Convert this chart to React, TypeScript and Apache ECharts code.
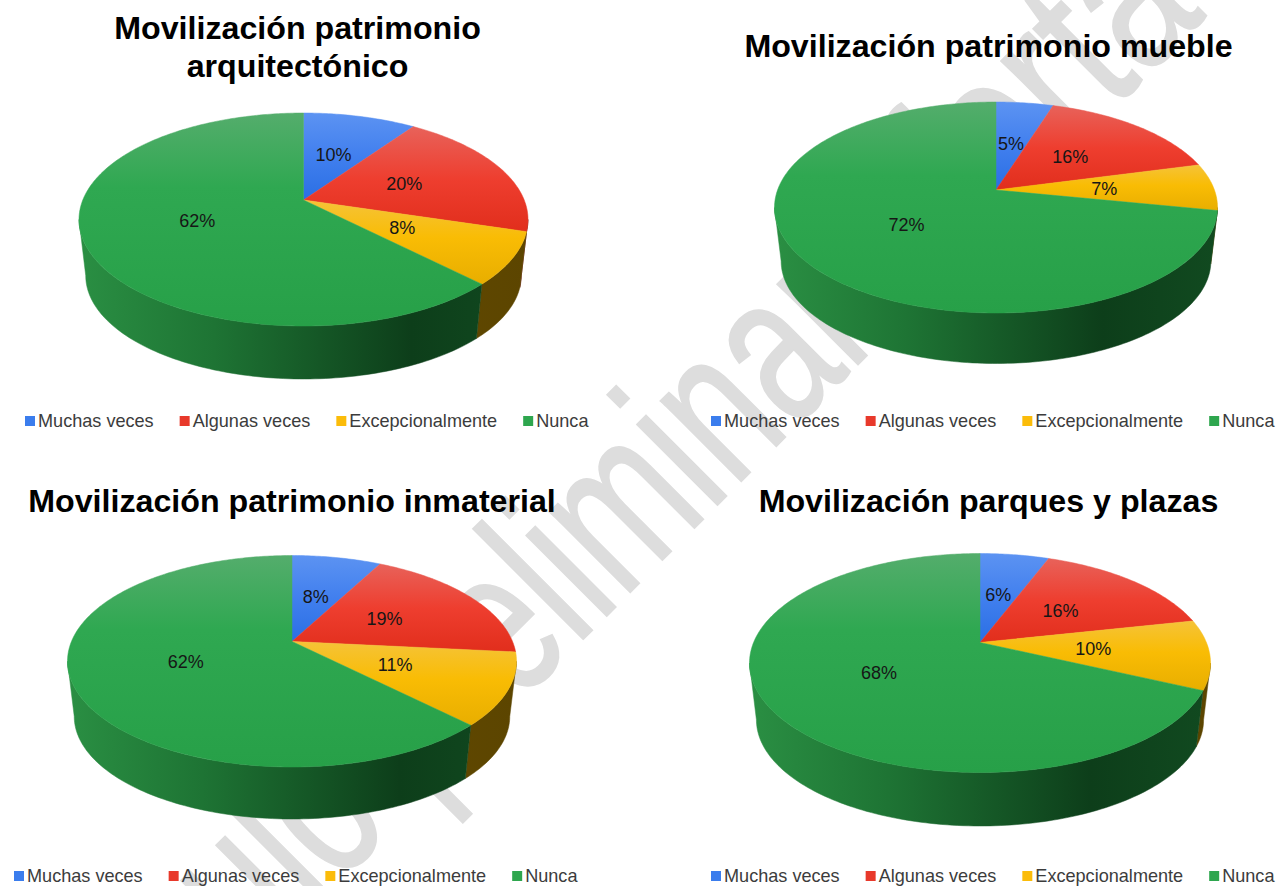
import React, { useEffect, useRef } from "react";
import * as echarts from "echarts";

const categories = ["Muchas veces", "Algunas veces", "Excepcionalmente", "Nunca"];
const titles = [
  "Movilización patrimonio\narquitectónico",
  "Movilización patrimonio mueble",
  "Movilización patrimonio inmaterial",
  "Movilización parques y plazas",
];
const arquitectonico = [9.7, 20, 7.9, 62.4];
const mueble = [4.9, 16, 7.2, 71.9];
const inmaterial = [7.7, 18.9, 11, 62.4];
const parques = [5.8, 15.8, 10.3, 68.1];
const pies = [arquitectonico, mueble, inmaterial, parques];

const layouts = [
  { cx: 303.5, cy: 200, up: 87, down: 126, halfW: 224.5, wallBottom: 379, titleX: 297.5, titleY: 9, legendX: 25, legendY: 412 },
  { cx: 996, cy: 190, up: 88, down: 123, halfW: 221.5, wallBottom: 363.5, titleX: 988.5, titleY: 27, legendX: 711, legendY: 412 },
  { cx: 292, cy: 641.5, up: 86, down: 125.5, halfW: 224.5, wallBottom: 819, titleX: 292, titleY: 482, legendX: 14, legendY: 867 },
  { cx: 980, cy: 642.5, up: 89, down: 130, halfW: 230.5, wallBottom: 826, titleX: 988.5, titleY: 482, legendX: 711, legendY: 867 },
];

const FONT = "Liberation Sans";
const legendColors = ["#3b7ded", "#e8392b", "#fbbc0a", "#2ea64e"];
const topStops = [
  [[0, "#5c93f2"], [0.5, "#417fee"], [1, "#2a6fe4"]],
  [[0, "#e8625a"], [0.5, "#ee3e2f"], [1, "#e12e1c"]],
  [[0, "#f5c338"], [0.45, "#f9bc04"], [1, "#e8ae00"]],
  [[0, "#54ad6c"], [0.35, "#2fa851"], [1, "#27a048"]],
];
const wallStops = [
  [[0, "#2a5fb8"], [1, "#143a80"]],
  [[0, "#a8281c"], [1, "#6a140c"]],
  [[0, "#6e5200"], [1, "#5c4500"]],
  [[0, "#2a8f43"], [0.3, "#1e7434"], [0.74, "#0d3e1a"], [1, "#114a20"]],
];

const toStops = (s: any[]) => s.map(([offset, color]) => ({ offset, color }));

function project(l: any, r: number, theta: number, s = 1, dy = 0) {
  const k = (l.down - l.up) / (l.down + l.up);
  const b = l.up * (1 + k);
  const a = l.halfW * Math.sqrt(1 - k * k);
  const u = r * Math.sin(theta);
  const v = -r * Math.cos(theta);
  const w = 1 - k * v;
  return [l.cx + (s * a * u) / w, l.cy + dy + (s * b * v) / w];
}

function renderSlice(l: any, idx: number) {
  return (_p: any, api: any) => {
    const value = api.value(0);
    const before = api.value(1);
    const total = api.value(2);
    const t0 = (before / total) * Math.PI * 2;
    const t1 = ((before + value) / total) * Math.PI * 2;
    const k = (l.down - l.up) / (l.down + l.up);
    const tR = Math.PI - Math.acos(k);
    const tL = Math.PI * 2 - tR;
    const s = 0.97;
    const dy = l.wallBottom - l.cy - l.down * s;
    const children: any[] = [];
    const a0 = Math.max(t0, tR);
    const a1 = Math.min(t1, tL);
    if (a1 > a0) {
      const n = Math.max(2, Math.ceil((a1 - a0) / 0.02));
      const upper: number[][] = [];
      const lower: number[][] = [];
      for (let i = 0; i <= n; i++) {
        const t = a0 + ((a1 - a0) * i) / n;
        upper.push(project(l, 1, t));
        lower.unshift(project(l, 1, t, s, dy));
      }
      const fill = new echarts.graphic.LinearGradient(
        l.cx - l.halfW, 0, l.cx + l.halfW, 0, toStops(wallStops[idx]), true
      );
      children.push({
        type: "polygon",
        shape: { points: upper.concat(lower) },
        style: { fill, stroke: fill, lineWidth: 0.5 },
      });
    }
    const pts: number[][] = [[l.cx, l.cy]];
    const m = Math.max(2, Math.ceil((t1 - t0) / 0.015));
    for (let i = 0; i <= m; i++) pts.push(project(l, 1, t0 + ((t1 - t0) * i) / m));
    const top = new echarts.graphic.LinearGradient(0, 0, 0, 1, toStops(topStops[idx]));
    children.push({
      type: "polygon",
      z2: 10,
      shape: { points: pts },
      style: { fill: top, stroke: top, lineWidth: 0.5 },
    });
    const lp = project(l, 0.5, (t0 + t1) / 2);
    children.push({
      type: "text",
      z2: 30,
      style: {
        x: lp[0] - 0.5,
        y: lp[1] + 0.5,
        text: Math.round(value) + "%",
        align: "center",
        verticalAlign: "middle",
        fontSize: 18,
        fontFamily: FONT,
        fill: "#161616",
      },
    });
    return { type: "group", children };
  };
}

const watermark = (text: string, x: number, y: number, align: string, scaleX: number) => ({
  type: "text",
  z: 0,
  silent: true,
  x,
  y,
  scaleX,
  rotation: Math.PI / 4,
  style: {
    text,
    fontSize: 215,
    fontFamily: FONT,
    fill: "#dddddd",
    stroke: "#dddddd",
    lineWidth: 2,
    lineJoin: "round",
    align,
    verticalAlign: "middle",
  },
});

export default function App() {
  const ref = useRef<HTMLDivElement>(null);
  useEffect(() => {
    const chart = echarts.init(ref.current!, undefined, { renderer: "svg" });
    const series: any[] = [];
    pies.forEach((vals, p) => {
      const total = vals.reduce((a, b) => a + b, 0);
      let before = 0;
      vals.forEach((v, i) => {
        series.push({
          type: "custom",
          name: categories[i],
          coordinateSystem: "none",
          silent: true,
          z: 2 + i,
          itemStyle: { color: legendColors[i] },
          renderItem: renderSlice(layouts[p], i),
          data: [[v, before, total]],
        });
        before += v;
      });
    });
    chart.setOption({
      animation: false,
      backgroundColor: "#ffffff",
      title: layouts.map((l, i) => ({
        text: titles[i],
        left: l.titleX,
        top: l.titleY,
        padding: 0,
        textAlign: "center",
        textStyle: { fontSize: 32.2, fontWeight: "bold", fontFamily: FONT, color: "#000", lineHeight: 38 },
      })),
      legend: layouts.map((l) => ({
        data: categories,
        left: l.legendX,
        top: l.legendY,
        orient: "horizontal",
        padding: 0,
        icon: "rect",
        itemWidth: 10,
        itemHeight: 10,
        itemGap: 26,
        selectedMode: false,
        textStyle: { fontSize: 18.1, fontFamily: FONT, color: "#3c3c3c", padding: [0, 0, 0, -2] },
      })),
      graphic: [
        watermark("Artículo preliminar", 833, 284, "right", 0.692),
        watermark("oferta", 862.6, 254.5, "left", 0.75),
      ],
      series,
    });
    return () => chart.dispose();
  }, []);
  return <div ref={ref} style={{ position: "absolute", left: 0, top: 0, width: 1284, height: 886 }} />;
}
